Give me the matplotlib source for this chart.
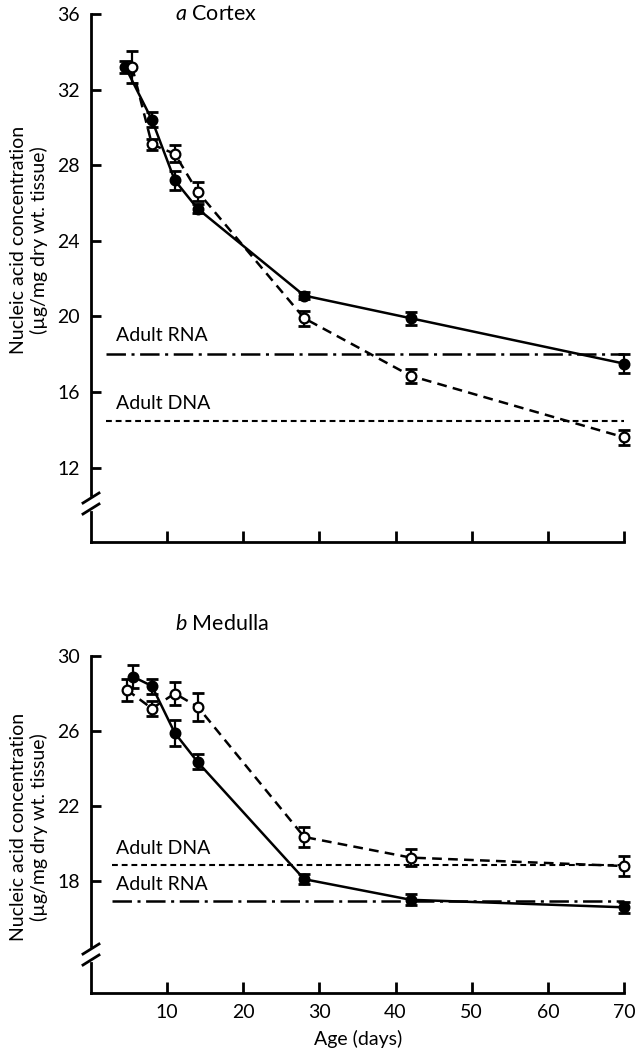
import matplotlib
matplotlib.use("Agg")
import matplotlib.pyplot as plt
from matplotlib.lines import Line2D

plt.rcParams['font.family'] = ['Lato', 'DejaVu Sans']
plt.rcParams['mathtext.fontset'] = 'custom'
plt.rcParams['mathtext.it'] = 'Lato:italic'
plt.rcParams['mathtext.rm'] = 'Lato'
plt.rcParams['lines.scale_dashes'] = False

# ---------------- data ----------------
days_rna = [4.5, 8, 11, 14, 28, 42, 70]
days_dna = [5.4, 8, 11, 14, 28, 42, 70]

cortex_rna = [33.2, 30.4, 27.2, 25.7, 21.1, 19.9, 17.5]
cortex_rna_err = [0.3, 0.4, 0.5, 0.25, 0.2, 0.35, 0.5]
cortex_dna = [33.2, 29.1, 28.6, 26.6, 19.9, 16.85, 13.6]
cortex_dna_err = [0.85, 0.3, 0.45, 0.5, 0.4, 0.35, 0.4]
cortex_adult_rna = 18.0
cortex_adult_dna = 14.45

days_rna_b = [5.5, 8, 11, 14, 28, 42, 70]
days_dna_b = [4.7, 8, 11, 14, 28, 42, 70]
medulla_rna = [28.9, 28.4, 25.9, 24.35, 18.1, 17.0, 16.6]
medulla_rna_err = [0.6, 0.4, 0.7, 0.4, 0.25, 0.3, 0.3]
medulla_dna = [28.2, 27.2, 28.0, 27.3, 20.35, 19.25, 18.8]
medulla_dna_err = [0.6, 0.4, 0.6, 0.75, 0.55, 0.45, 0.55]
medulla_adult_dna = 18.85
medulla_adult_rna = 16.95

x_ticks = [10, 20, 30, 40, 50, 60, 70]
cortex_yticks = [12, 16, 20, 24, 28, 32, 36]
medulla_yticks = [18, 22, 26, 30]

# ---------------- figure ----------------
W, H = 636, 1056
fig = plt.figure(figsize=(W / 100, H / 100), dpi=100)

left_px, right_px = 91, 625.5
ax1 = fig.add_axes([left_px / W, 1 - 542 / H, (right_px - left_px) / W, 528 / H])
ax2 = fig.add_axes([left_px / W, 1 - 993 / H, (right_px - left_px) / W, 337 / H])

FS = 14
TFS = 15.5
dash_rna_adult = (0, (14, 4, 2.2, 4))
dot_dna_adult = (0, (4.2, 2.8))
dash_series = (0, (7, 4.5))


def plot_series(ax, x, y, e, filled, ls):
    ax.errorbar(x, y, yerr=e, fmt='none', ecolor='black', elinewidth=1.6,
                capsize=4.5, capthick=2.0, zorder=3, clip_on=False)
    ax.plot(x, y, color='black', linestyle=ls, linewidth=1.8, zorder=2,
            clip_on=False)
    ax.plot(x, y, linestyle='none', marker='o', markersize=7,
            markerfacecolor='black' if filled else 'white',
            markeredgecolor='black', markeredgewidth=1.6, zorder=4,
            clip_on=False)


def style_axis(ax, height_px, yticks, show_xlabels):
    ax.set_xlim(0, 70.2)
    for s in ['top', 'right', 'left']:
        ax.spines[s].set_visible(False)
    ax.spines['bottom'].set_linewidth(2.0)
    ax.spines['bottom'].set_bounds(0, 70)
    ax.set_xticks(x_ticks)
    ax.set_yticks(yticks)
    ax.tick_params(axis='both', direction='in', length=7, width=2.0,
                   labelsize=FS, pad=8)
    ax.tick_params(axis='x', length=8)
    if not show_xlabels:
        ax.set_xticklabels([])
    frac = lambda px: px / height_px
    tr = ax.transAxes
    ax.add_line(Line2D([0, 0], [frac(47), 1.0], transform=tr, color='black',
                       linewidth=2.0, clip_on=False))
    ax.add_line(Line2D([0, 0], [0, frac(30)], transform=tr, color='black',
                       linewidth=2.0, clip_on=False))
    dx = 8 / (right_px - left_px)
    for c in (44, 33):
        ax.add_line(Line2D([-dx, dx], [frac(c - 5), frac(c + 5)], transform=tr,
                           color='black', linewidth=2.0, clip_on=False))


# ---- panel a ----
ax1.set_ylim(8.06, 36)
style_axis(ax1, 528, cortex_yticks, False)
ax1.plot([2, 70], [cortex_adult_rna] * 2, color='black', linewidth=1.8,
         linestyle=dash_rna_adult)
ax1.plot([2, 70], [cortex_adult_dna] * 2, color='black', linewidth=1.5,
         linestyle=dot_dna_adult)
plot_series(ax1, days_rna, cortex_rna, cortex_rna_err, True, '-')
plot_series(ax1, days_dna, cortex_dna, cortex_dna_err, False, dash_series)
ax1.text(3.3, 19.0, 'Adult RNA', fontsize=FS, va='center', ha='left')
ax1.text(3.3, 15.4, 'Adult DNA', fontsize=FS, va='center', ha='left')
ax1.text(11.0, 36.0, r'$\it{a}$ Cortex', fontsize=TFS, va='center', ha='left')

# ---- panel b ----
ax2.set_ylim(12.03, 30)
style_axis(ax2, 337, medulla_yticks, True)
ax2.plot([2.7, 70], [medulla_adult_dna] * 2, color='black', linewidth=1.5,
         linestyle=dot_dna_adult)
ax2.plot([2.7, 70], [medulla_adult_rna] * 2, color='black', linewidth=1.8,
         linestyle=dash_rna_adult)
plot_series(ax2, days_rna_b, medulla_rna, medulla_rna_err, True, '-')
plot_series(ax2, days_dna_b, medulla_dna, medulla_dna_err, False, dash_series)
ax2.text(3.3, 19.76, 'Adult DNA', fontsize=FS, va='center', ha='left')
ax2.text(3.3, 17.8, 'Adult RNA', fontsize=FS, va='center', ha='left')
ax2.text(11.0, 31.7, r'$\it{b}$ Medulla', fontsize=TFS, va='center', ha='left')

ax2.set_xlabel('Age (days)', fontsize=FS, labelpad=6)

ylab = 'Nucleic acid concentration\n(\u00b5g/mg dry wt. tissue)'
fig.text(29 / W, 1 - 240 / H, ylab, rotation=90, fontsize=FS, ha='center',
         va='center', multialignment='center', linespacing=1.15)
fig.text(29 / W, 1 - 827 / H, ylab, rotation=90, fontsize=FS, ha='center',
         va='center', multialignment='center', linespacing=1.15)

fig.savefig('out.png', dpi=100, facecolor='white')
